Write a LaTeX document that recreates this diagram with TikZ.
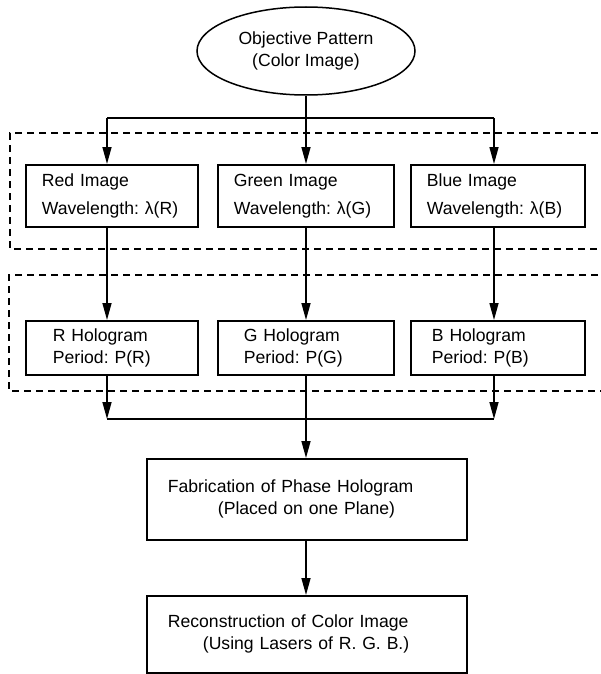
\documentclass[tikz,border=0pt]{standalone}
\usepackage{fontspec}
\setmainfont{Liberation Sans}
\usetikzlibrary{arrows.meta,shapes.geometric}
\frenchspacing
\begin{document}
\begin{tikzpicture}[x=1pt,y=-1pt,
  every node/.style={font=\fontsize{17.6}{22}\selectfont},
  box/.style={draw, line width=1.8pt, align=left, inner ysep=0pt, anchor=north west},
  conn/.style={line width=1.5pt},
  arr/.style={line width=1.5pt, -{Triangle[length=17pt,width=9pt]}},
  dashbox/.style={line width=1.4pt, dash pattern=on 7pt off 5pt}]
\useasboundingbox (0,0) rectangle (601,674);
\fill[white] (0,0) rectangle (601,674);
% dashed groups
\draw[dashbox] (610,133) -- (10,133) -- (10,249) -- (610,249);
\draw[dashbox] (610,275) -- (9,275) -- (9,391) -- (610,391);
% ellipse
\node[draw, ellipse, line width=1.5pt, minimum width=218pt, minimum height=88pt, inner sep=0pt, align=center] (obj) at (306,51) {Objective Pattern\\(Color Image)};
% row 1
\node[box, inner xsep=16pt, text width=140pt, minimum height=62pt] (red) at (25,164) {Red Image\\[6pt]Wavelength: λ(R)};
\node[box, inner xsep=16pt, text width=144pt, minimum height=62pt] (green) at (217,164) {Green Image\\[6pt]Wavelength: λ(G)};
\node[box, inner xsep=16pt, text width=142pt, minimum height=62pt] (blue) at (410,164) {Blue Image\\[6pt]Wavelength: λ(B)};
% row 2
\node[box, inner xsep=27pt, text width=118pt, minimum height=54pt] (rh) at (25,320) {R Hologram\\Period: P(R)};
\node[box, inner xsep=26pt, text width=124pt, minimum height=54pt] (gh) at (217,320) {G Hologram\\Period: P(G)};
\node[box, inner xsep=21pt, text width=132pt, minimum height=54pt] (bh) at (410,320) {B Hologram\\Period: P(B)};
% bottom
\node[box, inner xsep=21pt, text width=278pt, minimum height=81pt] (fab) at (146,458) {Fabrication of Phase Hologram\\\hspace*{50pt}(Placed on one Plane)};
\node[box, inner xsep=21pt, text width=278pt, minimum height=77pt] (rec) at (146,595) {Reconstruction of Color Image\\\hspace*{35pt}(Using Lasers of R. G. B.)};
% junctions
\coordinate (jl) at (107,118);
\coordinate (jc) at (306,118);
\coordinate (jr) at (494,118);
\coordinate (bl) at (107,419);
\coordinate (bc) at (306,419);
\coordinate (br) at (494,419);
% connectors
\draw[conn] (obj.south) -- (jc);
\draw[conn] (jl) -- (jr);
\draw[arr] (jl) -- (jl |- red.north);
\draw[arr] (jc) -- (jc |- green.north);
\draw[arr] (jr) -- (jr |- blue.north);
\draw[arr] (red.south -| jl) -- (rh.north -| jl);
\draw[arr] (green.south -| jc) -- (gh.north -| jc);
\draw[arr] (blue.south -| jr) -- (bh.north -| jr);
\draw[arr] (rh.south -| bl) -- (bl);
\draw[arr] (bh.south -| br) -- (br);
\draw[conn] (bl) -- (br);
\draw[arr] (gh.south -| bc) -- (fab.north -| bc);
\draw[arr] (fab.south -| bc) -- (rec.north -| bc);
\end{tikzpicture}
\end{document}
